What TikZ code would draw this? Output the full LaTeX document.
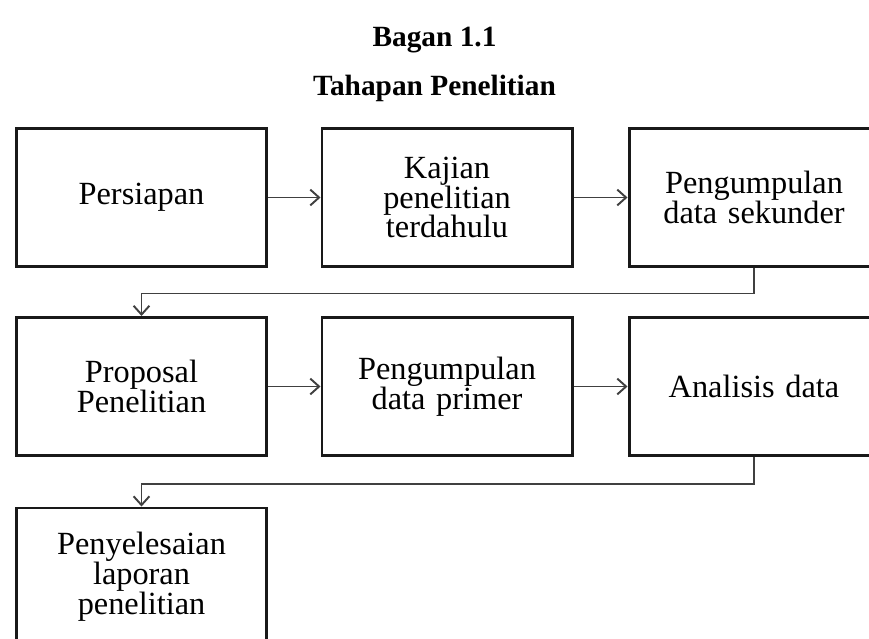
\documentclass[tikz,border=0pt]{standalone}
\usepackage{fontspec}
\setmainfont{Liberation Serif}
\usetikzlibrary{arrows.meta}

\begin{document}
\begin{tikzpicture}
    % Define styles
    \tikzset{
        tahap/.style={draw=black!90, line width=1.7pt, fill=white, minimum width=5cm, minimum height=2.76cm, text width=4.6cm, align=center, font=\fontsize{18.4}{17}\selectfont},
        judul/.style={font=\bfseries\fontsize{16.7}{20}\selectfont},
        panah/.style={-{Straight Barb[length=5pt,width=9pt]}, draw=black!75, line width=1.1pt}
    }
    \clip (0,0) rectangle (17.38,12.76);

    % Headers
    \node[judul] (bagan) at (8.69,11.96) {Bagan 1.1};
    \node[judul] (tahapan) at (8.69,11.0) {Tahapan Penelitian};

    % Row 1
    \node[tahap] (persiapan) at (2.83,8.81) {Persiapan};
    \node[tahap] (kajian) at (8.94,8.81) {Kajian\\penelitian\\terdahulu};
    \node[tahap] (sekunder) at (15.08,8.81) {Pengumpulan\\data sekunder};

    % Row 2
    \node[tahap] (proposal) at (2.83,5.03) {Proposal\\Penelitian};
    \node[tahap] (primer) at (8.94,5.03) {Pengumpulan\\data primer};
    \node[tahap] (analisis) at (15.08,5.03) {Analisis data};

    % Row 3
    \node[tahap] (laporan) at (2.83,1.22) {Penyelesaian\\laporan\\penelitian};

    % Arrows
    \draw[panah] (persiapan) -- (kajian);
    \draw[panah] (kajian) -- (sekunder);
    \draw[panah] (sekunder.south) -- ++(0,-0.51) -| (proposal.north);
    \draw[panah] (proposal) -- (primer);
    \draw[panah] (primer) -- (analisis);
    \draw[panah] (analisis.south) -- ++(0,-0.54) -| (laporan.north);

\end{tikzpicture}
\end{document}
